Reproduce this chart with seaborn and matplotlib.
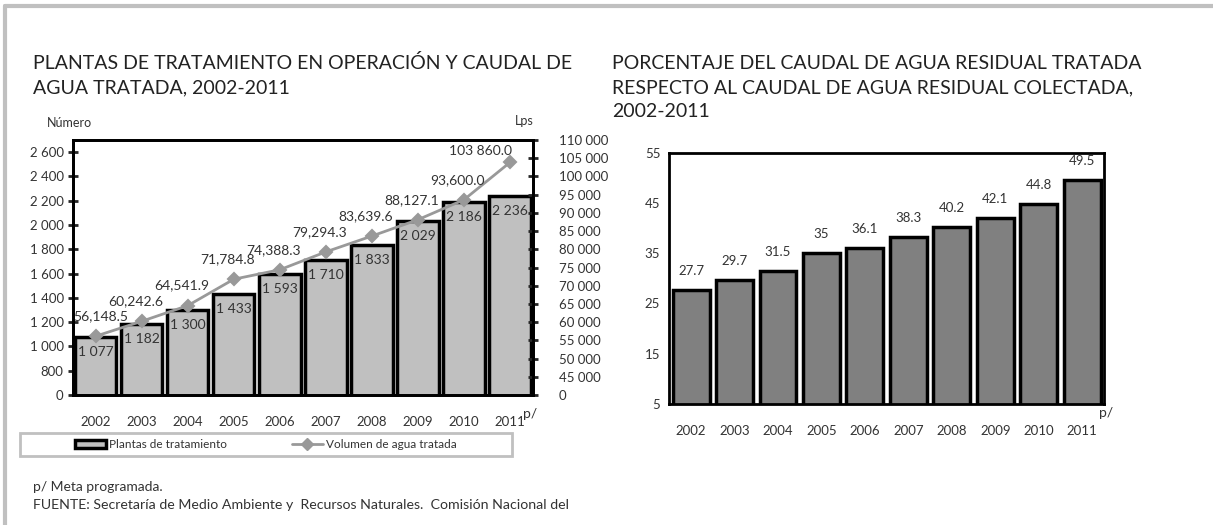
import matplotlib
matplotlib.use('Agg')
import matplotlib.pyplot as plt
import seaborn as sns
import pandas as pd
from matplotlib.lines import Line2D
from matplotlib.patches import Patch, Rectangle

# datos
anios = ['2002', '2003', '2004', '2005', '2006', '2007', '2008', '2009', '2010', '2011']
plantas = [1077, 1182, 1300, 1433, 1593, 1710, 1833, 2029, 2186, 2236]
plantas_lbl = ['1 077', '1 182', '1 300', '1 433', '1 593', '1 710', '1 833', '2 029', '2 186', '2 236']
volumen = [56148.5, 60242.6, 64541.9, 71784.8, 74388.3, 79294.3, 83639.6, 88127.1, 93600.0, 103860.0]
volumen_lbl = ['56,148.5', '60,242.6', '64,541.9', '71,784.8', '74,388.3', '79,294.3',
               '83,639.6', '88,127.1', '93,600.0', '103 860.0']
porcentaje = [27.7, 29.7, 31.5, 35, 36.1, 38.3, 40.2, 42.1, 44.8, 49.5]
porcentaje_lbl = ['27.7', '29.7', '31.5', '35', '36.1', '38.3', '40.2', '42.1', '44.8', '49.5']

# ejes con corte: el primer tick se rotula "0"
izq_ticks = [600, 800, 1000, 1200, 1400, 1600, 1800, 2000, 2200, 2400, 2600]
izq_lbls = ['0', '800', '1 000', '1 200', '1 400', '1 600', '1 800', '2 000', '2 200', '2 400', '2 600']
der_ticks = [40000, 45000, 50000, 55000, 60000, 65000, 70000, 75000, 80000, 85000,
             90000, 95000, 100000, 105000, 110000]
der_lbls = ['0', '45 000', '50 000', '55 000', '60 000', '65 000', '70 000', '75 000', '80 000',
            '85 000', '90 000', '95 000', '100 000', '105 000', '110 000']
pct_ticks = [5, 15, 25, 35, 45, 55]

df = pd.DataFrame({'Año': anios, 'Plantas': plantas, 'Volumen': volumen, 'Porcentaje': porcentaje})

sns.set_style('white')
plt.rcParams['font.family'] = ['Lato', 'DejaVu Sans']
txt = '#333333'

fig = plt.figure(figsize=(12.13, 5.25), dpi=100)

# marco gris de la página
fig.add_artist(Line2D([0.004, 1.0], [0.988, 0.988], color='#c0c0c0', lw=3, transform=fig.transFigure))
fig.add_artist(Line2D([0.004, 0.004], [0.0, 0.988], color='#c0c0c0', lw=3, transform=fig.transFigure))

# ---------- gráfica izquierda ----------
ax = fig.add_axes([0.0599, 0.2476, 0.3795, 0.4857])
sns.barplot(data=df, x='Año', y='Plantas', color='#c0c0c0', edgecolor='black',
            linewidth=2.5, width=0.9, saturation=1, ax=ax)
ax.set_ylim(600, 2700)
ax.set_yticks(izq_ticks)
ax.set_yticklabels(izq_lbls)
ax.set_xlim(-0.5, 9.5)
ax.set_xlabel('')
ax.set_ylabel('')
for i, b in enumerate(ax.patches):
    ax.annotate(plantas_lbl[i], (b.get_x() + b.get_width() / 2, b.get_height()),
                xytext=(0, -15), textcoords='offset pixels', ha='center', va='center',
                fontsize=10, color=txt)

ax2 = ax.twinx()
sns.pointplot(data=df, x='Año', y='Volumen', color='#999999', markers='D', markersize=6,
              linewidth=2, ax=ax2)
ax2.set_ylim(40000, 110000)
ax2.set_yticks(der_ticks)
ax2.set_yticklabels(der_lbls)
ax2.set_xlim(-0.5, 9.5)
ax2.set_ylabel('')
n = len(volumen)
for i, v in enumerate(volumen):
    if i == 0:
        ha, dx, dy = 'left', -22, 20
    elif i == n - 1:
        ha, dx, dy = 'right', 2, 11
    else:
        ha, dx, dy = 'center', -6, 20
    ax2.annotate(volumen_lbl[i], (i, v), xytext=(dx, dy), textcoords='offset pixels',
                 ha=ha, va='center', fontsize=10, color=txt)

for a in (ax, ax2):
    for s in a.spines.values():
        s.set_visible(True)
        s.set_color('black')
        s.set_linewidth(2)
ax.tick_params(axis='y', direction='inout', length=7, width=2, labelsize=9.5, labelcolor=txt, pad=3)
ax2.tick_params(axis='y', direction='inout', length=7, width=2, labelsize=9.5, labelcolor=txt, pad=15)
ax.set_xticks(range(len(anios)))
ax.set_xticklabels(anios)
ax.set_xticks([x - 0.5 for x in range(len(anios) + 1)], minor=True)
ax.tick_params(axis='x', which='major', length=0, labelsize=9.5, labelcolor=txt, pad=15)
ax.tick_params(axis='x', which='minor', direction='inout', length=8, width=2)

fig.text(47 / 1213, 1 - 123 / 525, 'Número', fontsize=9, color=txt, va='center')
fig.text(515 / 1213, 1 - 121 / 525, 'Lps', fontsize=9, color=txt, va='center')
fig.text(523 / 1213, 1 - 414 / 525, 'p/', fontsize=10, color=txt, va='center')

fig.text(33 / 1213, 1 - 75 / 525, 'PLANTAS DE TRATAMIENTO EN OPERACIÓN Y CAUDAL DE\nAGUA TRATADA, 2002-2011',
         fontsize=14, color='#222222', va='center', linespacing=1.5)

# leyenda
x0, y0, w0, h0 = 20 / 1213, 1 - 456 / 525, 492 / 1213, 23 / 525
fig.add_artist(Rectangle((x0, y0), w0, h0, transform=fig.transFigure, facecolor='none',
                         edgecolor='#c0c0c0', lw=2))
h_bar = Patch(facecolor='#c0c0c0', edgecolor='black', linewidth=2.5)
h_lin = Line2D([], [], color='#999999', lw=2, marker='D', markersize=6)
leg = fig.legend([h_bar, h_lin], ['Plantas de tratamiento', 'Volumen de agua tratada'],
                 loc='center', ncol=2, bbox_to_anchor=(x0, y0, w0, h0),
                 frameon=False, fontsize=8.5, handlelength=2.6, handleheight=0.6,
                 columnspacing=5.5, handletextpad=0.3, borderpad=0.2)
for t in leg.get_texts():
    t.set_color(txt)

fig.text(33 / 1213, 1 - 487 / 525, 'p/ Meta programada.', fontsize=10, color=txt, va='center')
fig.text(33 / 1213, 1 - 505 / 525,
         'FUENTE: Secretaría de Medio Ambiente y  Recursos Naturales.  Comisión Nacional del',
         fontsize=10.2, color=txt, va='center')

# ---------- gráfica derecha ----------
bx = fig.add_axes([0.5518, 0.2305, 0.3583, 0.4786])
sns.barplot(data=df, x='Año', y='Porcentaje', color='#808080', edgecolor='black',
            linewidth=2.5, width=0.85, saturation=1, ax=bx)
bx.set_ylim(5, 55)
bx.set_yticks(pct_ticks)
bx.set_xlim(-0.5, 9.5)
bx.set_xlabel('')
bx.set_ylabel('')
for i, b in enumerate(bx.patches):
    bx.annotate(porcentaje_lbl[i], (b.get_x() + b.get_width() / 2, b.get_height()),
                xytext=(0, 19), textcoords='offset pixels', ha='center', va='center',
                fontsize=9.5, color=txt)
for s in bx.spines.values():
    s.set_visible(True)
    s.set_color('black')
    s.set_linewidth(2)
bx.tick_params(axis='y', direction='inout', length=7, width=2, labelsize=9.5, labelcolor=txt, pad=3)
bx.set_xticks(range(len(anios)))
bx.set_xticklabels(anios)
bx.set_xticks([x - 0.5 for x in range(len(anios) + 1)], minor=True)
bx.tick_params(axis='x', which='major', length=0, labelsize=9.5, labelcolor=txt, pad=15)
bx.tick_params(axis='x', which='minor', direction='inout', length=8, width=2)
fig.text(1099 / 1213, 1 - 413 / 525, 'p/', fontsize=10, color=txt, va='center')

fig.text(612 / 1213, 1 - 88 / 525,
         'PORCENTAJE DEL CAUDAL DE AGUA RESIDUAL TRATADA\nRESPECTO AL CAUDAL DE AGUA RESIDUAL COLECTADA,\n2002-2011',
         fontsize=14, color='#222222', va='center', linespacing=1.5)

fig.savefig('out.png', dpi=100)
